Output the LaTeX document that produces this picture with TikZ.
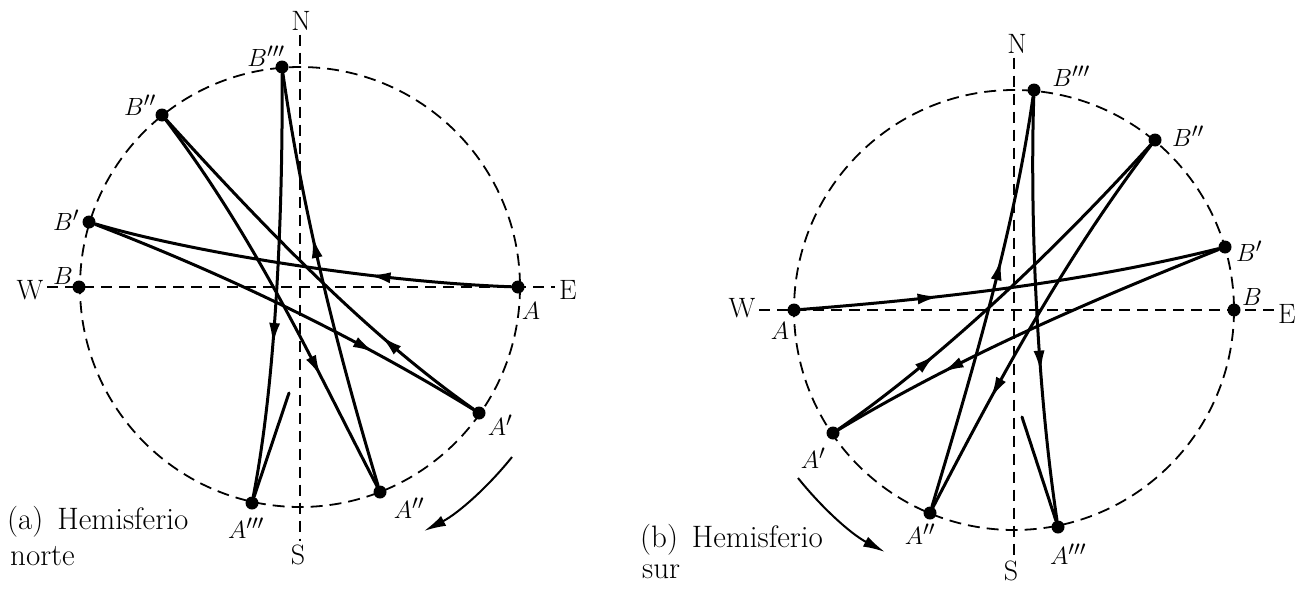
\documentclass[tikz,border=0pt]{standalone}
\usepackage{fontspec}
\usetikzlibrary{arrows.meta,decorations.markings}
\tikzset{
  circ/.style={dash pattern=on 12pt off 7pt, line width=1.8pt},
  axisline/.style={dash pattern=on 11pt off 7pt, line width=1.8pt},
  dot/.style={circle, fill=black, inner sep=0pt, minimum size=13pt},
  swing/.style={line width=3pt, line cap=round},
  midarr/.style={postaction={decorate}, decoration={markings, mark=at position #1 with {\arrow{Latex[length=22pt,width=11pt]}}}},
  lbl/.style={font=\fontsize{29}{34}\selectfont, inner sep=0pt},
  cardinal/.style={font=\fontsize{28}{32}\selectfont, inner sep=0pt, outer sep=4pt},
  caption/.style={font=\fontsize{31}{36}\selectfont, inner sep=0pt, anchor=west},
  turn/.style={line width=2pt, -{Latex[length=22pt,width=11pt]}},
}
\begin{document}
\begin{tikzpicture}[x=1pt,y=-1pt]
\useasboundingbox (0,0) rectangle (1305,589);
% ================= (a) Hemisferio norte =================
\coordinate (LO) at (300,287);
\draw[circ] (LO) circle[radius=220];
\node[cardinal] (LN) at (301,21) {N};
\node[cardinal] (LS) at (298,555) {S};
\node[cardinal] (LW) at (30,290) {W};
\node[cardinal] (LE) at (568,290) {E};
\draw[axisline] (LW.east |- LO) -- (LE.west |- LO);
\draw[axisline] (LO |- LN.south) -- (LO |- LS.north);
\node[dot] (LB) at (79,287) {};
\node[dot] (LA) at (518,287) {};
\node[dot] (LBp) at (89,222) {};
\node[dot] (LBpp) at (162,115) {};
\node[dot] (LBppp) at (282,67) {};
\node[dot] (LAp) at (479,413) {};
\node[dot] (LApp) at (380,492) {};
\node[dot] (LAppp) at (252,503) {};
\coordinate (LEnd) at (289,393);
\draw[swing, midarr=0.34] (LA) .. controls (375,282) and (190,252) .. (LBp);
\draw[swing, midarr=0.73] (LBp) .. controls (219,272) and (349,333) .. (LAp);
\draw[swing, midarr=0.28] (LAp) .. controls (365,333) and (262,225) .. (LBpp);
\draw[swing, midarr=0.71] (LBpp) .. controls (257,240) and (315,367) .. (LApp);
\draw[swing, midarr=0.61] (LApp) .. controls (335,342) and (302,207) .. (LBppp);
\draw[swing, midarr=0.64] (LBppp) .. controls (283,210) and (276,380) .. (LAppp);
\draw[swing] (LAppp) -- (LEnd);
\coordinate (LT1) at (512,457);
\coordinate (LT2) at (424,531);
\draw[turn] (LT1) .. controls (488,487) and (458,513.5) .. (LT2);
\node[lbl] (LBl) at (63,276) {$B$};
\node[lbl] (LAl) at (531,311) {$A$};
\node[lbl] (LBpl) at (66,220) {$B'$};
\node[lbl] (LBppl) at (140,105) {$B''$};
\node[lbl] (LBpppl) at (266,56) {$B'''$};
\node[lbl] (LApl) at (500,425) {$A'$};
\node[lbl] (LAppl) at (409,508) {$A''$};
\node[lbl] (LAppl3) at (246,528) {$A'''$};
\node[caption] (Lcap1) at (7,522) {(a)\hspace{0.45em}Hemisferio};
\node[caption] (Lcap2) at (10,556) {norte};
% ================= (b) Hemisferio sur =================
\coordinate (RO) at (1014,310);
\draw[circ] (RO) circle[radius=220];
\node[cardinal] (RN) at (1017,44) {N};
\node[cardinal] (RS) at (1011,571) {S};
\node[cardinal] (RW) at (742,308) {W};
\node[cardinal] (RE) at (1287,314) {E};
\draw[axisline] (RW.east |- RO) -- (RE.west |- RO);
\draw[axisline] (RO |- RN.south) -- (RO |- RS.north);
\node[dot] (RA) at (794,310) {};
\node[dot] (RB) at (1234,310) {};
\node[dot] (RBp) at (1225,247) {};
\node[dot] (RBpp) at (1155,140) {};
\node[dot] (RBppp) at (1034,90) {};
\node[dot] (RAp) at (833,433) {};
\node[dot] (RApp) at (930,513) {};
\node[dot] (RAppp) at (1058,527) {};
\coordinate (REnd) at (1022,417);
\draw[swing, midarr=0.33] (RA) .. controls (935,299) and (1080,283) .. (RBp);
\draw[swing, midarr=0.72] (RBp) .. controls (1095,299) and (963,355) .. (RAp);
\draw[swing, midarr=0.29] (RAp) .. controls (943,357) and (1057,248) .. (RBpp);
\draw[swing, midarr=0.71] (RBpp) .. controls (1060,265) and (995,388) .. (RApp);
\draw[swing, midarr=0.61] (RApp) .. controls (975,363) and (1014,230) .. (RBppp);
\draw[swing, midarr=0.65] (RBppp) .. controls (1030,210) and (1036,380) .. (RAppp);
\draw[swing] (RAppp) -- (REnd);
\coordinate (RT1) at (798,478);
\coordinate (RT2) at (885,552);
\draw[turn] (RT1) .. controls (822,508) and (851,534) .. (RT2);
\node[lbl] (RAl) at (780,331) {$A$};
\node[lbl] (RBl) at (1252,297) {$B$};
\node[lbl] (RBpl) at (1249,251) {$B'$};
\node[lbl] (RBppl) at (1188,136) {$B''$};
\node[lbl] (RBpppl) at (1071,76) {$B'''$};
\node[lbl] (RApl) at (813,458) {$A'$};
\node[lbl] (RAppl) at (920,534) {$A''$};
\node[lbl] (RAppl3) at (1068,554) {$A'''$};
\node[caption] (Rcap1) at (640,540) {(b)\hspace{0.45em}Hemisferio};
\node[caption] (Rcap2) at (642,572) {sur};
\end{tikzpicture}
\end{document}
